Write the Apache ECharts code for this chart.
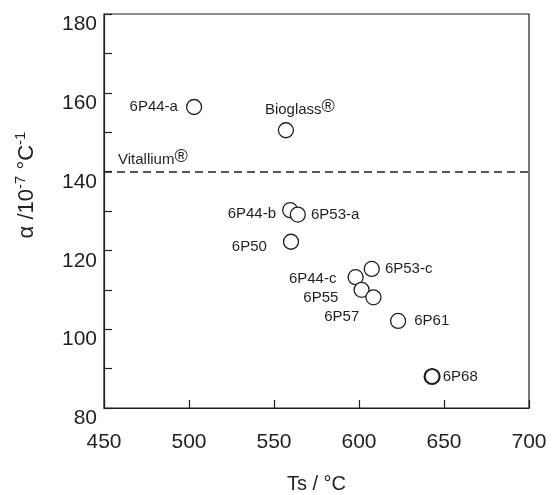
<!DOCTYPE html>
<html>
<head>
<meta charset="utf-8">
<script src="https://cdn.jsdelivr.net/npm/echarts@6/dist/echarts.min.js"></script>
<style>
  html, body { margin: 0; background: #fff; }
  #chart { width: 552px; height: 495px; }
</style>
</head>
<body>
<div id="chart"></div>
<script>
// data
const sampleNames = ['6P44-a', 'Bioglass', '6P44-b', '6P53-a', '6P50', '6P53-c', '6P44-c', '6P55', '6P57', '6P61', '6P68'];
const tsValues    = [503, 557, 559.5, 564, 560, 607.5, 598, 601.5, 608.5, 623, 643];
const alphaValues = [156.4, 150.5, 130.2, 129.1, 122.2, 115.3, 113.2, 110, 108.1, 102.1, 88];
const vitalliumAlpha = 140;
const xTicks = [450, 500, 550, 600, 650, 700];
const yTicks = [80, 100, 120, 140, 160, 180];

const ink = '#231f20';
const font = 'Liberation Sans, Arial, sans-serif';

// where each label sits relative to its circle
const labelLayout = {
    '6P44-a':  { position: 'left',  distance: 8 },
    'Bioglass':{ position: 'top',   distance: 2, offset: [14, 2] },
    '6P44-b':  { position: 'left',  distance: 6,  offset: [0, 4] },
    '6P53-a':  { position: 'right', distance: 5 },
    '6P50':    { position: 'left',  distance: 16, offset: [0, 5] },
    '6P53-c':  { position: 'right', distance: 5 },
    '6P44-c':  { position: 'left',  distance: 11, offset: [0, 2] },
    '6P55':    { position: 'left',  distance: 15, offset: [0, 8] },
    '6P57':    { position: 'left',  distance: 6,  offset: [0, 20] },
    '6P61':    { position: 'right', distance: 8 },
    '6P68':    { position: 'right', distance: 2 }
};

const supRich = {
    a: { fontSize: 15, color: ink, fontFamily: font, lineHeight: 24 },
    r: { fontSize: 18, color: ink, fontFamily: font, lineHeight: 16, verticalAlign: 'top' }
};

const points = sampleNames.map((n, i) => {
    const l = labelLayout[n];
    const item = {
        name: n,
        value: [tsValues[i], alphaValues[i]],
        label: {
            show: true,
            position: l.position,
            distance: l.distance,
            offset: l.offset || [0, 0],
            formatter: n === 'Bioglass' ? '{a|Bioglass}{r|®}' : n,
            rich: supRich
        }
    };
    if (n === '6P68') item.itemStyle = { borderWidth: 2.2 };
    return item;
});

const chart = echarts.init(document.getElementById('chart'));
chart.setOption({
    animation: false,
    backgroundColor: '#fff',
    textStyle: { fontFamily: font, color: ink },
    grid: {
        left: 104, right: 23, top: 14, bottom: 87,
        show: true, borderColor: ink, borderWidth: 1.2,
        outerBoundsMode: 'none'
    },
    xAxis: {
        type: 'value',
        min: xTicks[0], max: xTicks[xTicks.length - 1], interval: 50,
        name: 'Ts / °C',
        nameLocation: 'middle',
        nameGap: 66,
        nameTextStyle: { fontSize: 20, color: ink, fontFamily: font },
        axisLine: { show: true, lineStyle: { color: ink, width: 1.2 } },
        axisTick: { show: true, inside: true, length: 8, lineStyle: { color: ink, width: 1.2 } },
        axisLabel: { fontSize: 21, color: ink, margin: 24, fontFamily: font },
        splitLine: { show: false }
    },
    yAxis: {
        type: 'value',
        min: yTicks[0], max: yTicks[yTicks.length - 1], interval: 20,
        axisLine: { show: true, lineStyle: { color: ink, width: 1.2 } },
        axisTick: { show: true, inside: true, length: 8, lineStyle: { color: ink, width: 1.2 } },
        minorTick: { show: true, splitNumber: 2, length: 8, lineStyle: { color: ink, width: 1.2 } },
        axisLabel: { fontSize: 21, color: ink, margin: 7, verticalAlign: 'top', fontFamily: font },
        splitLine: { show: false }
    },
    graphic: [{
        type: 'text',
        x: 27, y: 185,
        rotation: Math.PI / 2,
        style: {
            text: '{m|α /10}{s|-7}{m| °C}{s|-1}',
            align: 'center',
            verticalAlign: 'middle',
            rich: {
                m: { fontSize: 22, fill: ink, fontFamily: font, lineHeight: 28 },
                s: { fontSize: 15, fill: ink, fontFamily: font, lineHeight: 16, verticalAlign: 'top' }
            }
        }
    }],
    series: [{
        type: 'scatter',
        data: points,
        symbol: 'circle',
        symbolSize: 15,
        itemStyle: { color: '#fff', borderColor: ink, borderWidth: 1.3, opacity: 1 },
        label: { fontSize: 15, color: ink, fontFamily: font },
        emphasis: { disabled: true },
        markLine: {
            silent: true,
            symbol: 'none',
            lineStyle: { color: ink, type: [8, 5], width: 1.5 },
            label: {
                show: true,
                position: 'insideStartTop',
                distance: [14, 0],
                formatter: '{a|Vitallium}{r|®}',
                rich: supRich
            },
            data: [{ yAxis: vitalliumAlpha }]
        }
    }]
});
</script>
</body>
</html>
